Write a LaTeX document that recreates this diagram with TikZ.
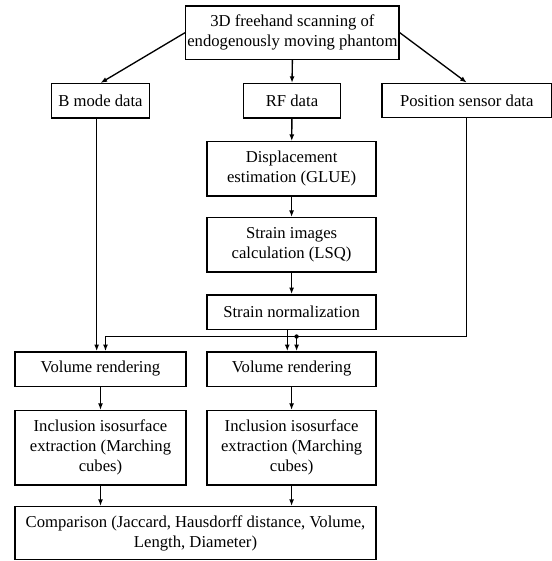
\documentclass[tikz,border=0pt]{standalone}
\usepackage{fontspec}
\setmainfont{Liberation Serif}
\usepackage{tikz}
\usetikzlibrary{arrows.meta}
\tikzstyle{stage}=[solid,rectangle,black,draw,line width=0.8pt,inner sep=1pt,align=center,minimum height=20.6pt]
\tikzstyle{flow} = [solid,black,draw,line width=0.8pt,-{Latex[length=4pt,width=3pt]}]

\begin{document}
\begin{tikzpicture}[x=0.6pt,y=-0.6pt]
	\useasboundingbox (0,0) rectangle (552,561);
	\node[stage,minimum width=118pt,minimum height=32pt] (scan) at (292.4,32.7) {3D freehand scanning of\\endogenously moving phantom};
	\node[stage,minimum width=58.6pt] (bmode) at (100.5,100.8) {B mode data};
	\node[stage,minimum width=58.6pt] (rf) at (292,100.8) {RF data};
	\node[stage,minimum width=101.6pt] (pos) at (466.8,100.5) {Position sensor data};
	\node[stage,minimum width=101.4pt,minimum height=32.6pt] (disp) at (291.6,168.9) {Displacement\\estimation (GLUE)};
	\node[stage,minimum width=101.4pt,minimum height=32.6pt] (strain) at (291.6,244.9) {Strain images\\calculation (LSQ)};
	\node[stage,minimum width=101.4pt] (norm) at (291.6,312) {Strain normalization};
	\node[stage,minimum width=102.6pt] (volb) at (100.5,369) {Volume rendering};
	\node[stage,minimum width=101.4pt] (vols) at (291.6,369) {Volume rendering};
	\node[stage,minimum width=102.6pt,minimum height=44.6pt] (isob) at (100.5,447.8) {Inclusion isosurface\\extraction (Marching\\cubes)};
	\node[stage,minimum width=101.4pt,minimum height=44.6pt] (isos) at (291.6,447.8) {Inclusion isosurface\\extraction (Marching\\cubes)};
	\node[stage,minimum width=216.6pt,minimum height=31.6pt] (comp) at (195.5,533) {Comparison (Jaccard, Hausdorff distance, Volume,\\Length, Diameter)};
	% inputs
	\path[flow] (scan.west) -- (bmode.north);
	\path[flow] (scan.south) -- (rf.north);
	\path[flow] (scan.east) -- (pos.north);
	% strain chain
	\path[flow] (rf) -- (disp);
	\path[flow] (disp) -- (strain);
	\path[flow] (strain) -- (norm);
	\path[flow] ([xshift=-2.6pt]norm.south) -- ([xshift=-2.6pt]vols.north);
	\path[flow] ([xshift=-2.3pt]bmode.south) -- ([xshift=-2.3pt]volb.north);
	% position data to both renderings
	\coordinate (bus) at (0,336.5);
	\coordinate (inb) at ([xshift=3pt]volb.north);
	\coordinate (ins) at ([xshift=3pt]vols.north);
	\path[flow] (pos.south) |- (inb |- bus) -- (inb);
	\path[flow] (ins |- bus) -- (ins);
	\fill (ins |- bus) circle (1.3pt);
	% isosurfaces and comparison
	\path[flow] (volb) -- (isob);
	\path[flow] (vols) -- (isos);
	\path[flow] (isob) -- (isob |- comp.north);
	\path[flow] (isos) -- (isos |- comp.north);
\end{tikzpicture}
\end{document}
